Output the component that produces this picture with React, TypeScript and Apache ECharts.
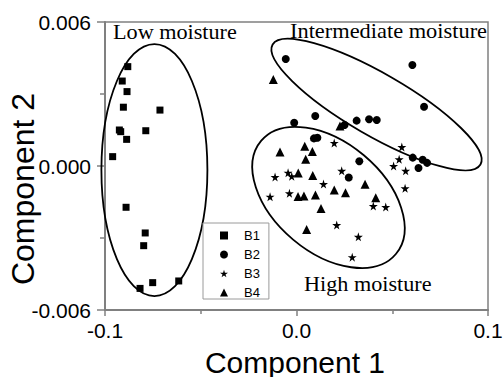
import React, { useEffect, useRef } from "react";
import * as echarts from "echarts";

// ---- data (Component 1, Component 2) ----
const seriesNames = ["B1", "B2", "B3", "B4"];

const b1: number[][] = [
  [-0.0881, 0.00414], [-0.0910, 0.00354], [-0.0885, 0.00310], [-0.0904, 0.00245],
  [-0.0713, 0.00233], [-0.0925, 0.00150], [-0.0918, 0.00143], [-0.0787, 0.00147],
  [-0.0887, 0.00111], [-0.0960, 0.00039], [-0.0890, -0.00172], [-0.0790, -0.00279],
  [-0.0798, -0.00332], [-0.0817, -0.00510], [-0.0751, -0.00486], [-0.0615, -0.00479],
];

const b2: number[][] = [
  [-0.0056, 0.00446], [0.0605, 0.00421], [0.0666, 0.00247], [0.0098, 0.00208],
  [-0.0012, 0.00180], [0.0314, 0.00189], [0.0379, 0.00195], [0.0419, 0.00192],
  [0.0251, 0.00171], [0.0091, 0.00115], [0.0109, 0.00118], [0.0328, 0.00020],
  [0.0607, 0.00035], [0.0659, 0.00026], [0.0682, 0.00013], [0.0637, -0.00008],
  [0.0273, -0.00048],
];

const b3: number[][] = [
  [0.0197, 0.00096], [0.0550, 0.00079], [0.0536, 0.00028], [0.0507, 0.0],
  [0.0570, -0.00020], [-0.0112, -0.00046], [-0.0044, -0.00028], [-0.0025, -0.00043],
  [0.0236, -0.00020], [0.0141, -0.00075], [-0.0037, -0.00114], [-0.0138, -0.00128],
  [0.0567, -0.00093], [0.0401, -0.00167], [0.0466, -0.00171], [0.0210, -0.00246],
  [0.0323, -0.00295], [0.0291, -0.00380],
];

const b4: number[][] = [
  [-0.0121, 0.00360], [0.0227, 0.00167], [0.0043, 0.00082], [0.0083, 0.00060],
  [-0.0086, 0.00058], [0.0048, 0.00028], [0.0009, -0.00029], [0.0085, -0.00040],
  [0.0358, -0.00076], [0.0197, -0.00100], [0.0256, -0.00111], [0.0099, -0.00121],
  [0.0008, -0.00127], [0.0039, -0.00125], [0.0128, -0.00177], [0.0414, -0.00132],
  [0.0053, -0.00265],
];

const xTicks = { min: -0.1, max: 0.1, interval: 0.1 };
const yTicks = { min: -0.006, max: 0.006, interval: 0.006 };

const xName = "Component 1";
const yName = "Component 2";

// group annotations: centre (data), semi-axes (px), rotation (deg, clockwise)
const groupLabels = ["Low moisture", "Intermediate moisture", "High moisture"];
const ellipseCenters: number[][] = [
  [-0.0742, -0.00017],
  [0.0418, 0.00256],
  [0.0167, -0.00131],
];
const ellipseRadii: number[][] = [
  [53, 126],
  [120, 31],
  [88, 55],
];
const ellipseAngles: number[] = [0, 30, 40];

const STAR =
  "path://M50,0 L61,35 L98,35 L68,57 L79,91 L50,70 L21,91 L32,57 L2,35 L39,35 Z";

const SANS = "'Liberation Sans', Arial, sans-serif";
const SERIF = "'Liberation Serif', 'Times New Roman', serif";
const AXIS_GRAY = "#808080";

export default function App() {
  const ref = useRef<HTMLDivElement>(null);

  useEffect(() => {
    if (!ref.current) return;
    const chart = echarts.init(ref.current, undefined, { renderer: "svg" });

    const ellipseData = ellipseCenters.map((c, i) => [
      c[0], c[1], ellipseRadii[i][0], ellipseRadii[i][1], ellipseAngles[i],
    ]);

    const symbols = ["rect", "circle", STAR, "triangle"];
    const sizes = [7, 8, 9, 9];
    const datasets = [b1, b2, b3, b4];

    const option: any = {
      animation: false,
      backgroundColor: "#fff",
      grid: {
        left: 105,
        right: 15,
        top: 22,
        bottom: 67,
        show: true,
        borderColor: AXIS_GRAY,
        borderWidth: 1.5,
        containLabel: false,
        outerBoundsMode: "none",
      },
      xAxis: {
        type: "value",
        min: xTicks.min,
        max: xTicks.max,
        interval: xTicks.interval,
        splitLine: { show: false },
        axisLine: { show: true, onZero: false, lineStyle: { color: AXIS_GRAY, width: 2 } },
        axisTick: { show: true, length: 6, lineStyle: { color: AXIS_GRAY, width: 1.5 } },
        minorTick: { show: true, splitNumber: 2, length: 4, lineStyle: { color: AXIS_GRAY, width: 1.5 } },
        minorSplitLine: { show: false },
        axisLabel: {
          fontSize: 21,
          fontFamily: SANS,
          color: "#000",
          margin: 10,
          formatter: (v: number) => (Math.abs(v) < 1e-9 ? "0.0" : v.toFixed(1)),
        },
      },
      yAxis: {
        type: "value",
        min: yTicks.min,
        max: yTicks.max,
        interval: yTicks.interval,
        splitLine: { show: false },
        axisLine: { show: true, onZero: false, lineStyle: { color: AXIS_GRAY, width: 2 } },
        axisTick: { show: true, length: 8, lineStyle: { color: AXIS_GRAY, width: 1.5 } },
        minorTick: { show: true, splitNumber: 2, length: 5, lineStyle: { color: AXIS_GRAY, width: 1.5 } },
        minorSplitLine: { show: false },
        axisLabel: {
          fontSize: 21,
          fontFamily: SANS,
          color: "#000",
          margin: 14,
          formatter: (v: number) => (Math.abs(v) < 1e-12 ? "0.000" : v.toFixed(3)),
        },
      },
      legend: {
        data: seriesNames,
        orient: "vertical",
        left: 203,
        top: 223,
        padding: [6, 9, 0, 17],
        itemWidth: 8,
        itemHeight: 8,
        itemGap: 6,
        borderColor: "#9a9a9a",
        borderWidth: 1,
        backgroundColor: "#fff",
        z: 20,
        textStyle: {
          fontSize: 13,
          fontFamily: SANS,
          color: "#000",
          lineHeight: 12,
          padding: [0, 0, 0, 11],
        },
      },
      series: [
        ...datasets.map((d, i) => ({
          name: seriesNames[i],
          type: "scatter",
          data: d,
          symbol: symbols[i],
          symbolSize: sizes[i],
          itemStyle: { color: "#000", opacity: 1 },
          z: 5,
        })),
        {
          type: "custom",
          name: "groups",
          data: ellipseData,
          encode: { x: 0, y: 1 },
          silent: true,
          z: 3,
          renderItem: (_params: any, api: any) => {
            const c = api.coord([api.value(0), api.value(1)]);
            return {
              type: "ellipse",
              x: c[0],
              y: c[1],
              rotation: (-api.value(4) * Math.PI) / 180,
              shape: { cx: 0, cy: 0, rx: api.value(2), ry: api.value(3) },
              style: { fill: "none", stroke: "#000", lineWidth: 1.8 },
            };
          },
        },
      ],
      graphic: [
        {
          type: "text", x: 113, y: 32, scaleX: 1.11, z: 30,
          style: { text: groupLabels[0], fontSize: 20, fontFamily: SERIF, fill: "#000", align: "left", verticalAlign: "middle" },
        },
        {
          type: "text", x: 290, y: 31.5, scaleX: 1.12, z: 30,
          style: { text: groupLabels[1], fontSize: 20, fontFamily: SERIF, fill: "#000", align: "left", verticalAlign: "middle" },
        },
        {
          type: "text", x: 304, y: 284, scaleX: 1.11, z: 30,
          style: { text: groupLabels[2], fontSize: 20, fontFamily: SERIF, fill: "#000", align: "left", verticalAlign: "middle" },
        },
        {
          type: "text", x: 295, y: 362, z: 30,
          style: { text: xName, fontSize: 30, fontFamily: SANS, fill: "#000", align: "center", verticalAlign: "middle" },
        },
        {
          type: "text", x: 22.5, y: 189, rotation: Math.PI / 2, z: 30,
          style: { text: yName, fontSize: 32, fontFamily: SANS, fill: "#000", align: "center", verticalAlign: "middle" },
        },
      ],
    };

    chart.setOption(option);
    return () => chart.dispose();
  }, []);

  return (
    <div
      ref={ref}
      style={{ position: "fixed", left: 0, top: 0, width: 503, height: 377, background: "#fff" }}
    />
  );
}
